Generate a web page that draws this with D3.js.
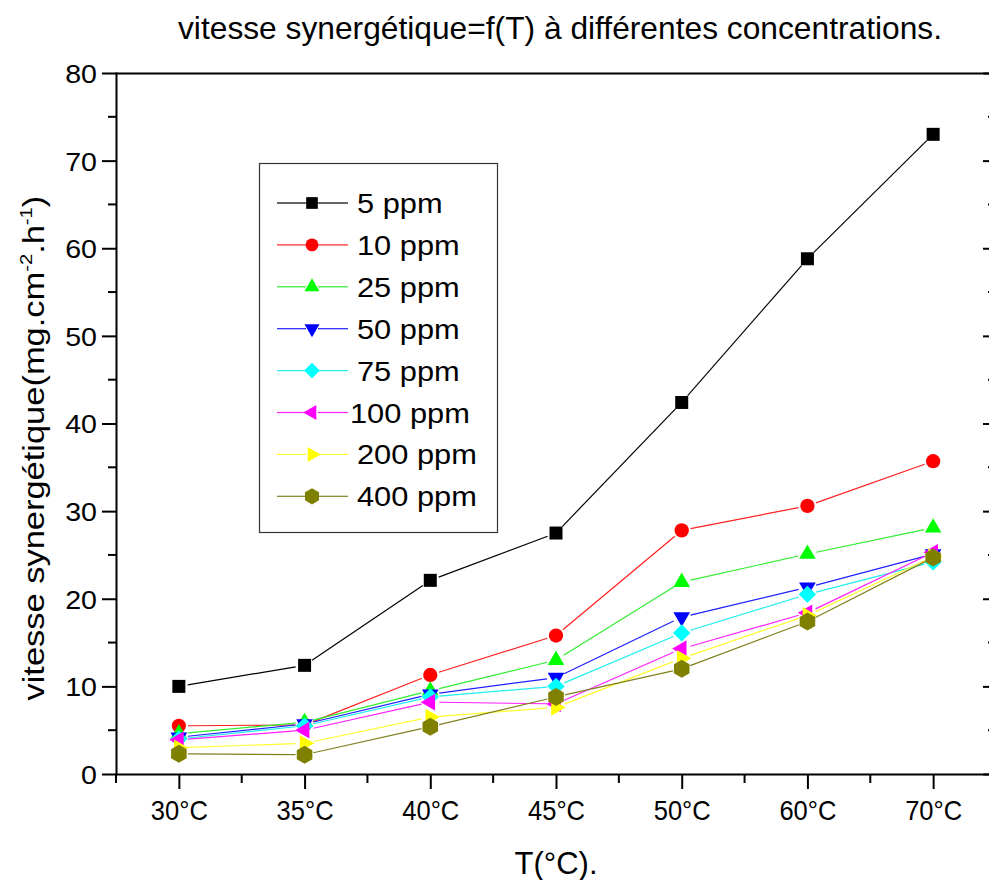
<!DOCTYPE html>
<html>
<head>
<meta charset="utf-8">
<script src="https://cdn.jsdelivr.net/npm/d3@7"></script>
<style>
  html, body { margin: 0; padding: 0; background: #fff; }
  svg { display: block; font-family: "Liberation Sans", Arial, sans-serif; }
</style>
</head>
<body>
<svg id="chart" width="989" height="880"></svg>
<script>
// ---------------- data ----------------
const categories = ["30°C", "35°C", "40°C", "45°C", "50°C", "60°C", "70°C"];
const seriesNames = ["5 ppm", "10 ppm", "25 ppm", "50 ppm", "75 ppm", "100 ppm", "200 ppm", "400 ppm"];
const s5   = [10.0, 12.4, 22.1, 27.5, 42.4, 58.8, 73.0];
const s10  = [5.5, 5.6, 11.3, 15.8, 27.8, 30.6, 35.7];
const s25  = [4.6, 5.9, 9.5, 13.0, 21.9, 25.1, 28.1];
const s50  = [4.2, 5.7, 9.1, 11.0, 17.9, 21.3, 25.1];
const s75  = [4.0, 5.5, 8.8, 10.0, 16.1, 20.5, 24.2];
const s100 = [3.9, 5.0, 8.2, 8.0, 14.3, 18.4, 25.3];
const s200 = [3.0, 3.5, 6.5, 7.6, 13.2, 18.1, 24.8];
const s400 = [2.3, 2.2, 5.4, 8.8, 12.0, 17.4, 24.7];
const seriesValues = [s5, s10, s25, s50, s75, s100, s200, s400];
const yTicks = [0, 10, 20, 30, 40, 50, 60, 70, 80];
const titleText = "vitesse synergétique=f(T) à différentes concentrations.";
const xTitleText = "T(°C).";

// ---------------- style ----------------
const colors  = ["#000000", "#ff0000", "#00ff00", "#0000ff", "#00ffff", "#ff00ff", "#ffff00", "#808000"];
const lineColors = ["#000000", "#ff2020", "#30ee30", "#2020ff", "#20eeee", "#ff20ff", "#ffff30", "#808020"];
const shapes  = ["square", "circle", "tri-up", "tri-down", "diamond", "tri-left", "tri-right", "hexagon"];

const svg = d3.select("#chart");
const plot = { left: 116, right: 996, top: 73, bottom: 774 };

const x = d3.scaleLinear().domain([-0.5, categories.length - 0.5]).range([plot.left, plot.right]);
const y = d3.scaleLinear().domain([0, 80]).range([plot.bottom, plot.top]);

function symbolPath(shape) {
  switch (shape) {
    case "square":  return d3.symbol(d3.symbolSquare, 169)();
    case "circle":  return d3.symbol(d3.symbolCircle, 160)();
    case "tri-up":
    case "tri-down":
    case "tri-left":
    case "tri-right": return d3.symbol(d3.symbolTriangle, 120)();
    case "diamond": return d3.symbol(d3.symbolSquare, 150)();
    case "hexagon": {
      const r = 9, pts = [];
      for (let k = 0; k < 6; k++) {
        const a = Math.PI / 2 + k * Math.PI / 3;
        pts.push([r * Math.cos(a), r * Math.sin(a)]);
      }
      return "M" + pts.map(p => p.join(",")).join("L") + "Z";
    }
  }
}
function symbolRotate(shape) {
  return { "tri-down": 180, "tri-left": -90, "tri-right": 90, "diamond": 45 }[shape] || 0;
}

// ---------------- axes ----------------
const axisG = svg.append("g");
const xMinor = d3.range(categories.length + 1).map(i => i - 0.5);
const axisStroke = 2;

// bottom axis
const bottomAxis = d3.axisBottom(x).tickValues(d3.range(categories.length))
  .tickFormat(i => categories[i]).tickSize(15).tickSizeOuter(0).tickPadding(8);
const bottomG = axisG.append("g").attr("transform", `translate(0,${plot.bottom})`).call(bottomAxis);
bottomG.append("g").selectAll("line").data(xMinor).join("line")
  .attr("x1", d => x(d)).attr("x2", d => x(d)).attr("y1", 0).attr("y2", 9);
// top axis (no ticks)
axisG.append("g").attr("transform", `translate(0,${plot.top})`)
  .call(d3.axisTop(x).tickValues([]).tickSizeOuter(0));
// left axis
const leftAxis = d3.axisLeft(y).tickValues(yTicks).tickSize(14).tickSizeOuter(0).tickPadding(6);
const leftG = axisG.append("g").attr("transform", `translate(${plot.left},0)`).call(leftAxis);
const yMinor = d3.range(5, 80, 10);
leftG.append("g").selectAll("line").data(yMinor).join("line")
  .attr("x1", 0).attr("x2", -8).attr("y1", d => y(d)).attr("y2", d => y(d));
// right axis, ticks inward
const rightG = axisG.append("g").attr("transform", `translate(${plot.right},0)`)
  .call(d3.axisLeft(y).tickValues(yTicks).tickSize(13).tickSizeOuter(0).tickFormat(""));
rightG.selectAll(".tick line").attr("x2", -13);
rightG.append("g").selectAll("line").data(yMinor).join("line")
  .attr("x1", 0).attr("x2", -8).attr("y1", d => y(d)).attr("y2", d => y(d));

axisG.selectAll("path.domain").attr("stroke", "#000").attr("stroke-width", axisStroke)
  .attr("stroke-linecap", "square");
axisG.selectAll("line").attr("stroke", "#000").attr("stroke-width", axisStroke);

// tick label styles
bottomG.selectAll(".tick text")
  .attr("font-size", 28).attr("fill", "#000")
  .attr("font-family", "Liberation Sans, Arial, sans-serif")
  .attr("dy", null).attr("y", 46)
  .attr("textLength", 57).attr("lengthAdjust", "spacingAndGlyphs");
leftG.selectAll(".tick text")
  .attr("font-size", 26).attr("fill", "#000")
  .attr("font-family", "Liberation Sans, Arial, sans-serif")
  .attr("x", -19).attr("dy", "0.36em")
  .each(function () {
    const w = this.getComputedTextLength();
    d3.select(this).attr("textLength", w * 1.1).attr("lengthAdjust", "spacingAndGlyphs");
  });

// ---------------- series ----------------
const seriesG = svg.append("g");
seriesValues.forEach((vals, si) => {
  const g = seriesG.append("g");
  const pts = vals.map((v, i) => [x(i), y(v)]);
  const gap = 9;
  const segs = d3.pairs(pts).map(([a, b]) => {
    const dx = b[0] - a[0], dy = b[1] - a[1], L = Math.hypot(dx, dy);
    const ux = dx / L, uy = dy / L;
    return [a[0] + ux * gap, a[1] + uy * gap, b[0] - ux * gap, b[1] - uy * gap];
  });
  g.selectAll("line").data(segs).join("line")
    .attr("x1", d => d[0]).attr("y1", d => d[1]).attr("x2", d => d[2]).attr("y2", d => d[3])
    .attr("stroke", lineColors[si]).attr("stroke-width", 1.2);
  g.selectAll("path").data(pts).join("path")
    .attr("d", symbolPath(shapes[si]))
    .attr("transform", d => `translate(${d[0]},${d[1]}) rotate(${symbolRotate(shapes[si])})`)
    .attr("fill", colors[si]);
});

// ---------------- legend ----------------
const legend = { x: 259, y: 163, w: 238, h: 369, row0: 203, dy: 41.9 };
const lg = svg.append("g");
lg.append("rect").attr("x", legend.x + 0.5).attr("y", legend.y + 0.5)
  .attr("width", legend.w).attr("height", legend.h)
  .attr("fill", "#fff").attr("stroke", "#333").attr("stroke-width", 1.2);
seriesNames.forEach((name, si) => {
  const cy = legend.row0 + si * legend.dy;
  lg.append("line").attr("x1", 277).attr("x2", 306).attr("y1", cy).attr("y2", cy)
    .attr("stroke", lineColors[si]).attr("stroke-width", 1.2);
  lg.append("line").attr("x1", 318).attr("x2", 348).attr("y1", cy).attr("y2", cy)
    .attr("stroke", lineColors[si]).attr("stroke-width", 1.2);
  lg.append("path").attr("d", symbolPath(shapes[si]))
    .attr("transform", `translate(312,${cy}) rotate(${symbolRotate(shapes[si])}) scale(0.9)`)
    .attr("fill", colors[si]);
  const t = lg.append("text").attr("x", si === 5 ? 350 : 357).attr("y", cy + 10)
    .attr("font-size", 27).attr("fill", "#000").text(name);
  const w = t.node().getComputedTextLength();
  t.attr("textLength", w * 1.14).attr("lengthAdjust", "spacingAndGlyphs");
});

// ---------------- titles ----------------
svg.append("text").attr("x", 178).attr("y", 39).attr("font-size", 32).attr("fill", "#000")
  .attr("textLength", 764).attr("lengthAdjust", "spacingAndGlyphs").text(titleText);

svg.append("text").attr("x", 556).attr("y", 874).attr("text-anchor", "middle")
  .attr("font-size", 31).attr("fill", "#000")
  .attr("textLength", 83).attr("lengthAdjust", "spacingAndGlyphs").text(xTitleText);

// y title with superscripts
const ytG = svg.append("g");
const yt = ytG.append("text").attr("font-size", 29).attr("fill", "#000");
yt.append("tspan").text("vitesse synergétique(mg.cm");
yt.append("tspan").attr("font-size", 17).attr("dy", -12).text("-2");
yt.append("tspan").attr("font-size", 29).attr("dy", 12).text(".h");
yt.append("tspan").attr("font-size", 17).attr("dy", -12).text("-1");
yt.append("tspan").attr("font-size", 29).attr("dy", 12).text(")");
const bb = yt.node().getBBox();
const targetLen = 505;
const sx = targetLen / bb.width;
ytG.attr("transform", `translate(44,${448 + targetLen / 2}) rotate(-90) scale(${sx},1) translate(${-bb.x},0)`);
</script>
</body>
</html>
